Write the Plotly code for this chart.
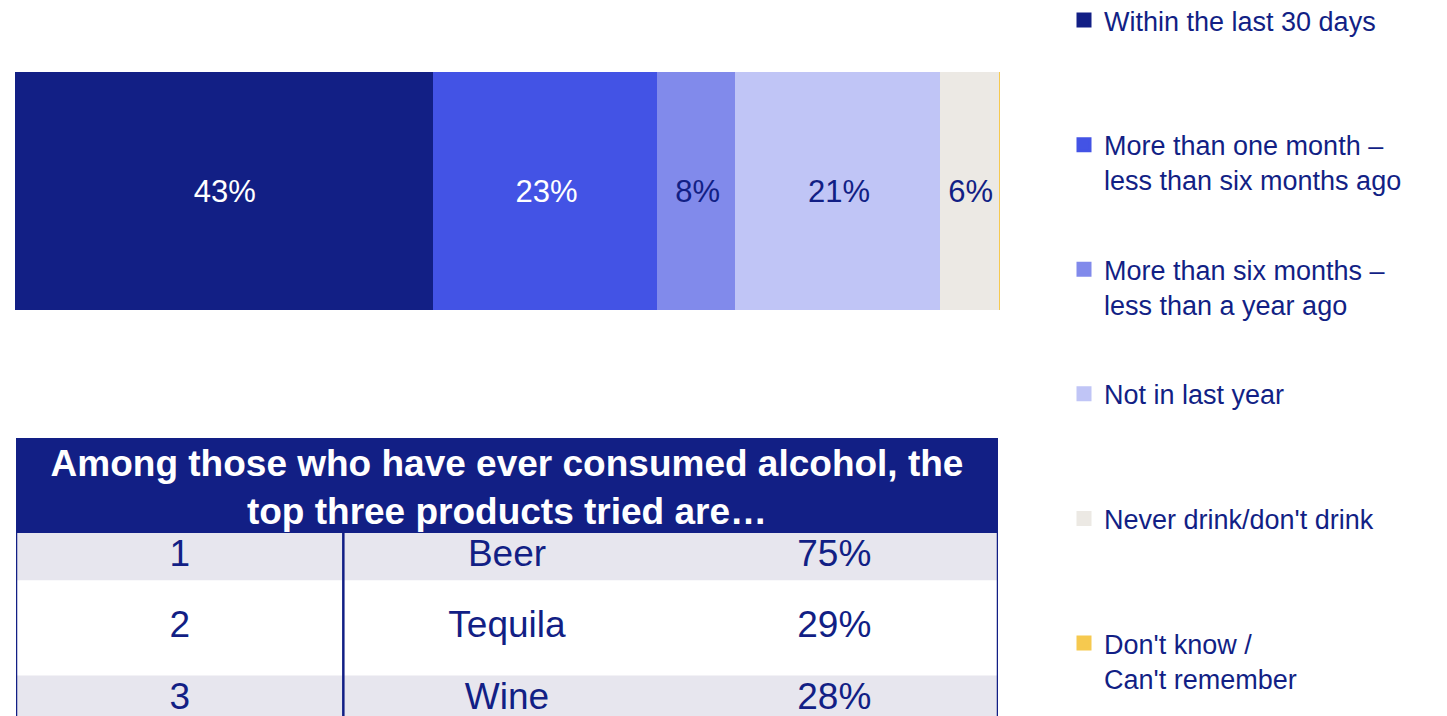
import plotly.graph_objects as go

# Last time alcohol was consumed (share of respondents, %)
categories = [
    "Within the last 30 days",
    "More than one month –<br>less than six months ago",
    "More than six months –<br>less than a year ago",
    "Not in last year",
    "Never drink/don't drink",
    "Don't know /<br>Can't remember",
]
shares = [43, 23, 8, 21, 6, 0]

# Top products tried among those who have ever consumed alcohol
ranks = ["1", "2", "3"]
products = ["Beer", "Tequila", "Wine"]
tried = [75, 29, 28]
table_title = "Among those who have ever consumed alcohol, the<br>top three products tried are…"

# Styling
NAVY = "#121F85"
bar_colors = ["#121F85", "#4353E5", "#818AEB", "#C0C5F6", "#ECE9E4", "#F6C94F"]
label_colors = ["white", "white", NAVY, NAVY, NAVY, NAVY]
ROW_GREY = "#E7E6EE"
FONT = "Arial, Liberation Sans, sans-serif"
W, H = 1447, 716

fig = go.Figure()

for name, val, col, lc in zip(categories, shares, bar_colors, label_colors):
    fig.add_trace(go.Bar(
        x=[val], y=[0], orientation="h", name=name,
        marker=dict(color=col, line=dict(color=col, width=3)),
        width=1,
        text=[f"{val}%" if val else ""], textposition="inside",
        insidetextanchor="middle", textangle=0, constraintext="none",
        textfont=dict(size=31, color=lc, family=FONT),
        legendgroup=name, showlegend=True,
        hoverinfo="skip",
    ))

# Legend names padded to two lines so every entry has the same height
for tr in fig.data:
    if "<br>" not in tr.name:
        tr.name = tr.name + "<br> "

# ---- table on its own axes: three equal columns, rows measured downward
header_h = 2
row_heights = [1, 2, 1]
row_fills = [ROW_GREY, "white", ROW_GREY]
n_cols = 3
unit_px = 47.5
table_top_px = 438

shapes = []
# header block
shapes.append(dict(type="rect", xref="x2", yref="y2", x0=0, x1=n_cols, y0=0, y1=header_h,
                   fillcolor=NAVY, line=dict(width=0), layer="below"))
row_tops = []
top = header_h
for h, fill in zip(row_heights, row_fills):
    row_tops.append(top)
    shapes.append(dict(type="rect", xref="x2", yref="y2", x0=0, x1=n_cols, y0=top, y1=top + h,
                       fillcolor=fill, line=dict(width=0), layer="below"))
    top += h
table_bottom = top
# borders: outer left/right and divider after the rank column
for xv in (0, 1, n_cols):
    shapes.append(dict(type="line", xref="x2", yref="y2", x0=xv, x1=xv, y0=header_h, y1=table_bottom,
                       line=dict(color=NAVY, width=2.5)))

row_mid = [t + h / 2 for t, h in zip(row_tops, row_heights)]

# header title sits slightly below the block's centre
fig.add_trace(go.Scatter(
    x=[n_cols / 2], y=[header_h / 2 + 5 / unit_px], xaxis="x2", yaxis="y2", mode="text",
    text=[f"<b>{table_title}</b>"], textposition="middle center",
    textfont=dict(size=37, color="white", family=FONT), showlegend=False, hoverinfo="skip",
))
for ci, col_vals in enumerate([ranks, products, [f"{v}%" for v in tried]]):
    fig.add_trace(go.Scatter(
        x=[ci + 0.5] * len(col_vals), y=row_mid, xaxis="x2", yaxis="y2", mode="text",
        text=col_vals, textposition="middle center",
        textfont=dict(size=37, color=NAVY, family=FONT), showlegend=False, hoverinfo="skip",
    ))

fig.update_layout(
    width=W, height=H,
    margin=dict(l=0, r=0, t=0, b=0, autoexpand=False),
    paper_bgcolor="white", plot_bgcolor="rgba(0,0,0,0)",
    barmode="stack",
    font=dict(family=FONT, color=NAVY),
    xaxis=dict(domain=[15 / W, 1000 / W], range=[0, sum(shares)], visible=False, fixedrange=True),
    yaxis=dict(domain=[1 - 310 / H, 1 - 72 / H], range=[-0.5, 0.5], visible=False, fixedrange=True),
    xaxis2=dict(domain=[16 / W, 998 / W], range=[0, n_cols], visible=False, anchor="y2"),
    yaxis2=dict(domain=[0, 1 - table_top_px / H], range=[(H - table_top_px) / unit_px, 0],
                visible=False, anchor="x2"),
    shapes=shapes,
    legend=dict(
        x=1064 / W, xanchor="left", y=1 + 4 / H, yanchor="top",
        font=dict(size=27, color=NAVY, family=FONT),
        valign="top", tracegroupgap=51.4, traceorder="grouped", maxheight=1000,
        bgcolor="rgba(0,0,0,0)", itemclick=False, itemdoubleclick=False,
    ),
    showlegend=True,
)

fig.write_html("out.html")
